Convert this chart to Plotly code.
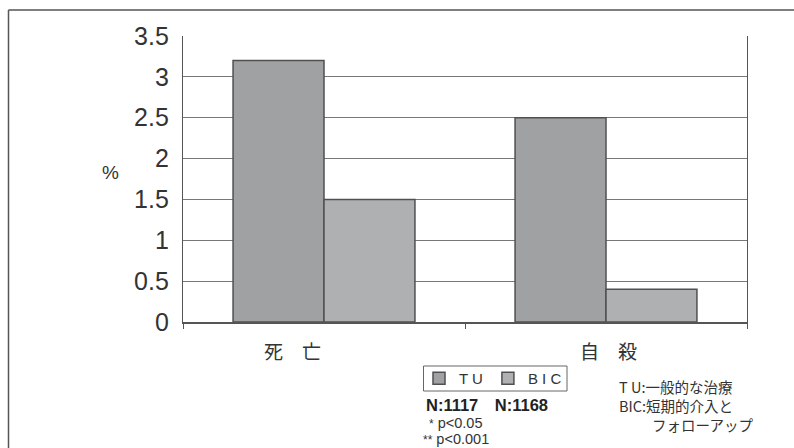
import plotly.graph_objects as go

categories = ["死　亡", "自　殺"]
tu_values = [3.2, 2.5]
bic_values = [1.5, 0.4]
series_names = ["T U", "B I C"]
y_ticks = [0, 0.5, 1, 1.5, 2, 2.5, 3, 3.5]
y_tick_text = ["0", "0.5", "1", "1.5", "2", "2.5", "3", "3.5"]

W, H = 794, 448
ML, MR, MT, MB = 183, 47, 36, 126
PW, PH = W - ML - MR, H - MT - MB


def px(x):
    return (x - ML) / PW


def py(y):
    return (H - MB - y) / PH


CJK = "Noto Sans CJK JP"
NUM = "Liberation Sans, Noto Sans CJK JP"
TXT = "#333333"

fig = go.Figure()
fig.add_trace(go.Bar(x=categories, y=tu_values, name=series_names[0],
                     marker=dict(color="#a0a1a3", line=dict(color="#505050", width=1.5))))
fig.add_trace(go.Bar(x=categories, y=bic_values, name=series_names[1],
                     marker=dict(color="#afb0b2", line=dict(color="#505050", width=1.5))))

annotations = []
annotations.append(dict(x=categories[0], y=0, xref="x", yref="y", text=categories[0],
                        showarrow=False, yanchor="middle", yshift=-28, xshift=-32,
                        font=dict(family=CJK, size=19, color=TXT)))
annotations.append(dict(x=categories[1], y=0, xref="x", yref="y", text=categories[1],
                        showarrow=False, yanchor="middle", yshift=-28, xshift=2,
                        font=dict(family=CJK, size=19, color=TXT)))
annotations.append(dict(x=px(100), y=py(172), xref="paper", yref="paper", text="%",
                        showarrow=False, font=dict(family=NUM, size=19, color=TXT)))
annotations.append(dict(x=px(424), y=py(405), xref="paper", yref="paper",
                        text="<b>N:1117　N:1168</b>", showarrow=False, xanchor="left",
                        yanchor="middle", font=dict(family=NUM, size=16.5, color="#222")))
annotations.append(dict(x=px(427), y=py(423), xref="paper", yref="paper",
                        text="<span style='font-size:12px'>*</span> p&lt;0.05", showarrow=False,
                        xanchor="left", yanchor="middle", font=dict(family=NUM, size=14.5, color=TXT)))
annotations.append(dict(x=px(421), y=py(439), xref="paper", yref="paper",
                        text="<span style='font-size:12px'>**</span> p&lt;0.001", showarrow=False,
                        xanchor="left", yanchor="middle", font=dict(family=NUM, size=14.5, color=TXT)))
annotations.append(dict(x=px(617), y=py(386), xref="paper", yref="paper",
                        text="T U:一般的な治療", showarrow=False, xanchor="left",
                        yanchor="middle", font=dict(family=CJK, size=14.5, color=TXT)))
annotations.append(dict(x=px(617), y=py(405), xref="paper", yref="paper",
                        text="BIC:短期的介入と", showarrow=False, xanchor="left",
                        yanchor="middle", font=dict(family=CJK, size=14.5, color=TXT)))
annotations.append(dict(x=px(650), y=py(424), xref="paper", yref="paper",
                        text="フォローアップ", showarrow=False, xanchor="left",
                        yanchor="middle", font=dict(family=CJK, size=14.5, color=TXT)))

shapes = [
    dict(type="line", xref="paper", yref="paper", x0=px(8.5), x1=px(8.5),
         y0=py(10), y1=py(460), line=dict(color="#555", width=1.5)),
    dict(type="line", xref="paper", yref="paper", x0=px(8.5), x1=px(800),
         y0=py(10), y1=py(10), line=dict(color="#555", width=1.5)),
    # legend frame
    dict(type="rect", xref="paper", yref="paper", x0=px(423.5), x1=px(567),
         y0=py(391), y1=py(366), line=dict(color="#666", width=1)),
]

fig.update_layout(
    width=W, height=H,
    margin=dict(l=ML, r=MR, t=MT, b=MB),
    paper_bgcolor="white", plot_bgcolor="white",
    barmode="group", bargap=0.355, bargroupgap=0,
    showlegend=True,
    legend=dict(orientation="h", x=px(419), y=py(378.5), xanchor="left", yanchor="middle",
                borderwidth=0, bgcolor="rgba(0,0,0,0)",
                font=dict(family=NUM, size=15, color=TXT),
                itemwidth=30, tracegroupgap=0),
    annotations=annotations,
    shapes=shapes,
    xaxis=dict(type="category", showticklabels=False, tickson="boundaries",
               ticks="outside", ticklen=5, tickcolor="#555", tickwidth=1.2,
               showline=True, linecolor="#555", linewidth=1.5, showgrid=False),
    yaxis=dict(range=[0, 3.5], tickvals=y_ticks, ticktext=y_tick_text,
               showgrid=True, gridcolor="#777", gridwidth=1.3,
               showline=True, linecolor="#555", linewidth=1.3, mirror=True,
               ticks="", ticklabelstandoff=8, zeroline=False,
               tickfont=dict(family=NUM, size=25, color=TXT)),
)

fig.write_html("out.html")
